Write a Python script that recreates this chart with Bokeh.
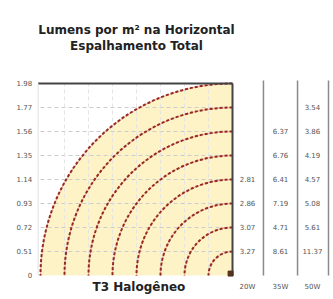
from math import pi
from bokeh.plotting import figure
from bokeh.models import Range1d
from bokeh.core.properties import value
from bokeh.embed import file_html
from bokeh.resources import INLINE

# ---- data ----
title_lines = ["Lumens por m² na Horizontal", "Espalhamento Total"]
lamp_label = "T3 Halogêneo"
levels = [0, 1, 2, 3, 4, 5, 6, 7, 8]
level_labels = ["0", "0.51", "0.72", "0.93", "1.14", "1.35", "1.56", "1.77", "1.98"]
arc_levels = [1, 2, 3, 4, 5, 6, 7, 8]
col_labels = ["20W", "35W", "50W"]
col1_levels = [4, 3, 2, 1]
col1_values = ["2.81", "2.86", "3.07", "3.27"]
col2_levels = [6, 5, 4, 3, 2, 1]
col2_values = ["6.37", "6.76", "6.41", "7.19", "4.71", "8.61"]
col3_levels = [7, 6, 5, 4, 3, 2, 1]
col3_values = ["3.54", "3.86", "4.19", "4.57", "5.08", "5.61", "11.37"]

W, H = 333, 299
p = figure(width=W, height=H, output_backend="svg", toolbar_location=None,
           x_range=Range1d(-9.6667, 4.2083), y_range=Range1d(-1.0, 11.4583),
           min_border=0, min_border_left=0, min_border_right=0,
           min_border_top=0, min_border_bottom=0)
p.axis.visible = False
p.grid.visible = False
p.outline_line_color = None
p.background_fill_color = "white"
p.border_fill_color = "white"

top = max(levels)
# cream quarter disc
p.wedge(x=0, y=0, radius=top, start_angle=pi / 2, end_angle=pi,
        fill_color="#fdf3c6", line_color=None)

# grid
inner = [l for l in levels if 0 < l < top]
p.segment(x0=[-top] * len(inner), y0=inner, x1=[0] * len(inner), y1=inner,
          line_color="#cccccc", line_width=1, line_dash="4 3")
p.segment(x0=[-l for l in inner], y0=[0] * len(inner), x1=[-l for l in inner], y1=[top] * len(inner),
          line_color="#e4e4e4", line_width=1, line_dash="4 3")

# isolux arcs
for r in arc_levels:
    p.arc(x=0, y=0, radius=r, start_angle=pi / 2, end_angle=pi,
          line_color="#e9a9a0", line_width=1)
    p.arc(x=0, y=0, radius=r, start_angle=pi / 2, end_angle=pi,
          line_color="#962a22", line_width=2, line_dash="3 2")

# borders
p.segment(x0=[-top - 0.1], y0=[top], x1=[0], y1=[top], line_color="#444444", line_width=2)
p.segment(x0=[0], y0=[0], x1=[0], y1=[top], line_color="#444444", line_width=2)
p.segment(x0=[-top - 0.1], y0=[0], x1=[-top - 0.1], y1=[top], line_color="#e0e0e0", line_width=1)
p.scatter(x=[-0.08], y=[0.08], marker="square", size=5, color="#553322")

# y labels
p.text(x=[-top - 0.35] * len(levels), y=levels, text=level_labels,
       text_font=value("DejaVu Sans"), text_font_size="7px", text_color="#555555",
       text_align="right", text_baseline="middle")

# table
col_x = [0.625, 2.0, 3.33]
sep_x = [1.29, 2.71, 4.0]
p.segment(x0=sep_x, y0=[0] * 3, x1=sep_x, y1=[top + 0.12] * 3,
          line_color="#8a8a8a", line_width=1.5)
for cx, lv, vals in zip(col_x, [col1_levels, col2_levels, col3_levels],
                        [col1_values, col2_values, col3_values]):
    p.text(x=[cx] * len(lv), y=lv, text=vals,
           text_font=value("DejaVu Sans"), text_font_size="7px", text_color="#555555",
           text_align="center", text_baseline="middle")
p.text(x=col_x, y=[-0.46] * 3, text=col_labels,
       text_font=value("DejaVu Sans"), text_font_size="7px", text_color="#555555",
       text_align="center", text_baseline="middle")

# titles
p.text(x=[-4.0, -4.0], y=[10.21, 9.58], text=title_lines,
       text_font=value("DejaVu Sans"), text_font_size="12px", text_font_style="bold",
       text_color="#222222", text_align="center", text_baseline="middle")
p.text(x=[-3.9], y=[-0.46], text=[lamp_label],
       text_font=value("DejaVu Sans"), text_font_size="12px", text_font_style="bold",
       text_color="#222222", text_align="center", text_baseline="middle")

open("out.html", "w").write(file_html(p, INLINE))
